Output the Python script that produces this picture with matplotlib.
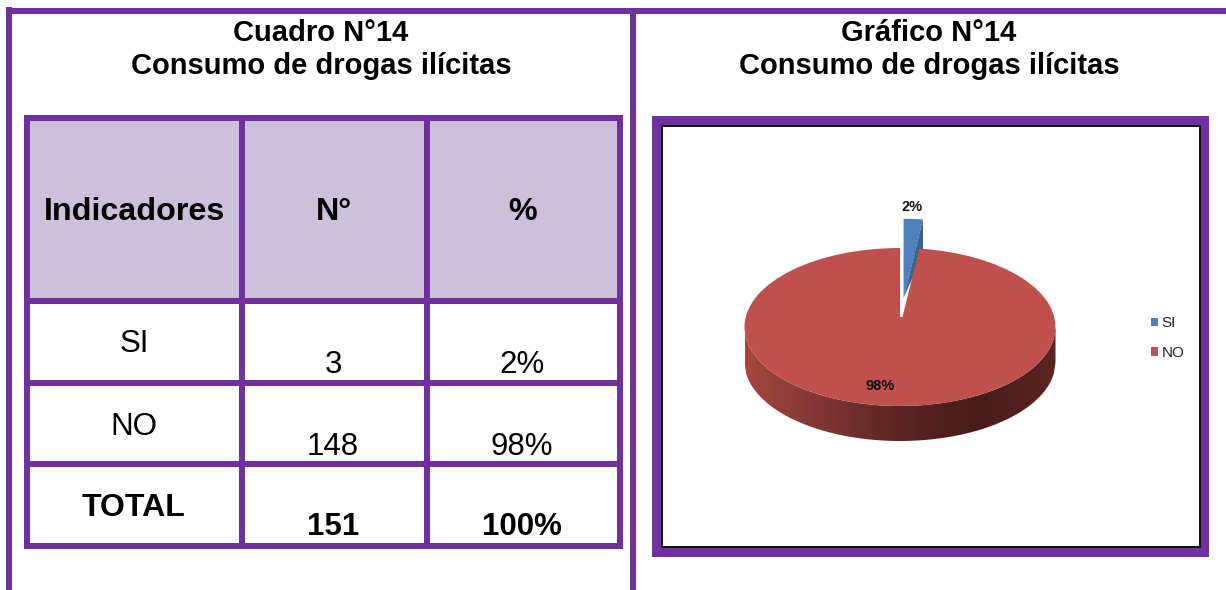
import numpy as np
import matplotlib
matplotlib.use("Agg")
import matplotlib.pyplot as plt
from matplotlib.colors import LinearSegmentedColormap
from matplotlib.patches import PathPatch, Polygon, Rectangle
from matplotlib.path import Path

plt.rcParams["font.family"] = ["Liberation Sans", "DejaVu Sans"]

titulo_cuadro = ["Cuadro N°14", "Consumo de drogas ilícitas"]
titulo_grafico = ["Gráfico N°14", "Consumo de drogas ilícitas"]
encabezados = ["Indicadores", "N°", "%"]
indicadores = ["SI", "NO"]
frecuencias = [3, 148]
porcentajes = ["2%", "98%"]
total = ["TOTAL", "151", "100%"]

MORADO = "#7030A0"
LILA = "#CCC0DA"
ANCHO, ALTO = 1226, 590

fig = plt.figure(figsize=(ANCHO / 100, ALTO / 100), dpi=100, facecolor="white")
ax = fig.add_axes([0, 0, 1, 1])
ax.set_xlim(0, ANCHO)
ax.set_ylim(ALTO, 0)
ax.axis("off")


def caja(x0, y0, x1, y1, color=MORADO, z=2):
    ax.add_patch(Rectangle((x0, y0), x1 - x0, y1 - y0, fc=color, ec="none", zorder=z))


# marco exterior de la pagina
caja(6, 8, ANCHO, 14)
caja(6, 7, 12, ALTO)
caja(630, 14, 636, ALTO)

# titulos
for i, (a, b) in enumerate(zip(titulo_cuadro, titulo_grafico)):
    y = 33 + 33 * i
    ax.text(321, y, a, ha="center", va="center", fontsize=21, fontweight="bold")
    ax.text(929, y, b, ha="center", va="center", fontsize=21, fontweight="bold")

# cuadro
caja(27, 118, 242, 301, LILA, 1)
caja(242, 118, 426, 301, LILA, 1)
caja(426, 118, 620, 301, LILA, 1)
for x in (24, 239, 424, 617):
    caja(x, 115, x + 6, 549)
for y in (115, 298, 380, 461, 543):
    caja(24, y, 623, y + 6)

col_x = [134, 333, 522]
for x, texto in zip(col_x, encabezados):
    ax.text(x + 1, 212, texto, ha="center", va="center", fontsize=23.2, fontweight="bold")

filas_y = [(344, 365), (427, 447)]
for i, (y_ind, y_val) in enumerate(filas_y):
    ax.text(col_x[0], y_ind, indicadores[i], ha="center", va="center", fontsize=22.5)
    ax.text(col_x[1], y_val, str(frecuencias[i]), ha="center", va="center", fontsize=22.5)
    ax.text(col_x[2], y_val, porcentajes[i], ha="center", va="center", fontsize=22.5)
ax.text(col_x[0], 508, total[0], ha="center", va="center", fontsize=23, fontweight="bold")
ax.text(col_x[1], 527, total[1], ha="center", va="center", fontsize=22.5, fontweight="bold")
ax.text(col_x[2], 527, total[2], ha="center", va="center", fontsize=22.5, fontweight="bold")

# marco del grafico
caja(652, 116, 1209, 557)
caja(661, 125, 1201, 548, "#111111", 3)
caja(663, 127, 1199, 546, "white", 4)

# torta: elipse centrada en (900, 327), semiejes 155.5 y 79 px
cx, cy, rx, ry, prof = 900, 327, 155.5, 79, 35
y_arriba, y_abajo = 190, 460
ax_pie = fig.add_axes([
    (cx - rx) / ANCHO,
    1 - y_abajo / ALTO,
    2 * rx / ANCHO,
    (y_abajo - y_arriba) / ALTO,
])
ax_pie.patch.set_alpha(0)
wedges, _, autotextos = ax_pie.pie(
    frecuencias,
    colors=["#4F81BD", "#C0504D"],
    startangle=90,
    counterclock=False,
    explode=[0.37, 0],
    autopct="%.0f%%",
    radius=1,
    wedgeprops={"linewidth": 0},
)
ax_pie.set_aspect("auto")
for w in wedges:
    w.set_clip_on(False)
wedges[0].set_zorder(2)
wedges[1].set_zorder(5)

# cara interior de la porcion azul
h = prof / ry
azul = wedges[0]
ang = np.radians(azul.theta1)
ax0, ay0 = azul.center
borde = (ax0 + np.cos(ang), ay0 + np.sin(ang))
ax_pie.add_patch(
    Polygon([(ax0, ay0), borde, (borde[0], borde[1] - h)], fc="#3A6496", ec="none", zorder=3)
)

# la ranura blanca termina antes del centro de la torta
ranura = 10 / ry
ax_pie.add_patch(
    Polygon([(0, -0.02), (0, ranura), (ranura * borde[0] / borde[1] + 0.01, ranura)],
            fc="#C0504D", ec="none", zorder=5)
)

# pared lateral con degradado
xs = np.linspace(-1, 1, 200)
ys = -np.sqrt(1 - xs**2)
verts = np.vstack([np.column_stack([xs, ys]), np.column_stack([xs[::-1], ys[::-1] - h])])
pared = PathPatch(Path(verts), fc="none", ec="none", transform=ax_pie.transData)
ax_pie.add_patch(pared)
cmap = LinearSegmentedColormap.from_list(
    "pared", ["#A5473F", "#7E3533", "#5A2422", "#481B19", "#5C2520"]
)
img = ax_pie.imshow(
    np.linspace(0, 1, 256)[None, :],
    cmap=cmap,
    extent=[-1, 1, -1 - h, 0],
    aspect="auto",
    zorder=1,
)
img.set_clip_path(pared)
ax_pie.set_xlim(-1, 1)
ax_pie.set_ylim((cy - y_abajo) / ry, (cy - y_arriba) / ry)
ax_pie.axis("off")

# etiquetas
for t, (px, py) in zip(autotextos, [(912, 207), (880, 386)]):
    t.set_position(((px - cx) / rx, (cy - py) / ry))
    t.set_fontsize(10.5)
    t.set_fontweight("bold")
    t.set_zorder(6)
    t.set_color("#111111")

leyenda = fig.legend(
    wedges,
    indicadores,
    loc="center left",
    bbox_to_anchor=(1137 / ANCHO, 1 - 338 / ALTO),
    frameon=False,
    fontsize=11,
    handlelength=0.5,
    handleheight=0.5,
    handletextpad=0.2,
    labelspacing=1.0,
    labelcolor="#222222",
)

fig.savefig("out.png", dpi=100)
